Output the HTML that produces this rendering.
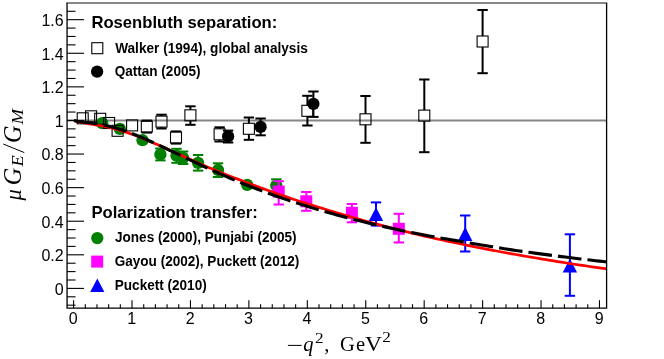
<!DOCTYPE html>
<html><head><meta charset="utf-8"><title>chart</title>
<style>
html,body{margin:0;padding:0;background:#fff;}
body{width:664px;height:359px;position:relative;overflow:hidden;}
svg{display:block;will-change:transform}
text{font-family:"Liberation Sans",sans-serif;fill:#000;}
.tl{font-size:16px;}
.h{font-weight:bold;font-size:16.2px;}
.e{font-weight:bold;font-size:13.8px;}
.m{font-family:"Liberation Serif",serif;}
</style></head>
<body>
<svg width="664" height="359" viewBox="0 0 664 359" style="position:absolute;left:0;top:0">
<rect x="0" y="0" width="664" height="359" fill="#fff"/>
<line x1="67.05" y1="120.45" x2="606.6" y2="120.45" stroke="#858585" stroke-width="2"/>

<circle cx="102.2" cy="123.2" r="6.15" fill="#008000"/>

<circle cx="119.8" cy="128.8" r="6.15" fill="#008000"/>

<circle cx="142.5" cy="140.2" r="6.15" fill="#008000"/>
<line x1="160.4" y1="148.5" x2="160.4" y2="160.4" stroke="#008000" stroke-width="2.0"/>
<line x1="155.20000000000002" y1="148.5" x2="165.6" y2="148.5" stroke="#008000" stroke-width="2.0"/>
<line x1="155.20000000000002" y1="160.4" x2="165.6" y2="160.4" stroke="#008000" stroke-width="2.0"/>
<circle cx="160.4" cy="154.4" r="6.15" fill="#008000"/>
<line x1="176.5" y1="148.8" x2="176.5" y2="162.8" stroke="#008000" stroke-width="2.0"/>
<line x1="171.3" y1="148.8" x2="181.7" y2="148.8" stroke="#008000" stroke-width="2.0"/>
<line x1="171.3" y1="162.8" x2="181.7" y2="162.8" stroke="#008000" stroke-width="2.0"/>
<circle cx="176.5" cy="155.6" r="6.15" fill="#008000"/>
<line x1="183.1" y1="151.5" x2="183.1" y2="164.0" stroke="#008000" stroke-width="2.0"/>
<line x1="177.9" y1="151.5" x2="188.29999999999998" y2="151.5" stroke="#008000" stroke-width="2.0"/>
<line x1="177.9" y1="164.0" x2="188.29999999999998" y2="164.0" stroke="#008000" stroke-width="2.0"/>
<circle cx="183.1" cy="157.8" r="6.15" fill="#008000"/>
<line x1="198.1" y1="155.0" x2="198.1" y2="170.6" stroke="#008000" stroke-width="2.0"/>
<line x1="192.9" y1="155.0" x2="203.29999999999998" y2="155.0" stroke="#008000" stroke-width="2.0"/>
<line x1="192.9" y1="170.6" x2="203.29999999999998" y2="170.6" stroke="#008000" stroke-width="2.0"/>
<circle cx="198.1" cy="162.8" r="6.15" fill="#008000"/>
<line x1="218.0" y1="163.3" x2="218.0" y2="177.0" stroke="#008000" stroke-width="2.0"/>
<line x1="212.8" y1="163.3" x2="223.2" y2="163.3" stroke="#008000" stroke-width="2.0"/>
<line x1="212.8" y1="177.0" x2="223.2" y2="177.0" stroke="#008000" stroke-width="2.0"/>
<circle cx="218.0" cy="170.0" r="6.15" fill="#008000"/>

<circle cx="247.2" cy="184.9" r="6.15" fill="#008000"/>
<line x1="276.3" y1="179.3" x2="276.3" y2="192.0" stroke="#008000" stroke-width="2.0"/>
<line x1="271.1" y1="179.3" x2="281.5" y2="179.3" stroke="#008000" stroke-width="2.0"/>
<line x1="271.1" y1="192.0" x2="281.5" y2="192.0" stroke="#008000" stroke-width="2.0"/>
<circle cx="276.3" cy="185.5" r="6.15" fill="#008000"/>
<line x1="278.7" y1="181.2" x2="278.7" y2="204.5" stroke="#ff00ff" stroke-width="2.0"/>
<line x1="273.5" y1="181.2" x2="283.9" y2="181.2" stroke="#ff00ff" stroke-width="2.0"/>
<line x1="273.5" y1="204.5" x2="283.9" y2="204.5" stroke="#ff00ff" stroke-width="2.0"/>
<rect x="272.70" y="185.60" width="12.0" height="12.0" fill="#ff00ff"/>
<line x1="306.3" y1="192.0" x2="306.3" y2="210.8" stroke="#ff00ff" stroke-width="2.0"/>
<line x1="301.1" y1="192.0" x2="311.5" y2="192.0" stroke="#ff00ff" stroke-width="2.0"/>
<line x1="301.1" y1="210.8" x2="311.5" y2="210.8" stroke="#ff00ff" stroke-width="2.0"/>
<rect x="300.30" y="195.30" width="12.0" height="12.0" fill="#ff00ff"/>
<line x1="351.9" y1="204.0" x2="351.9" y2="222.3" stroke="#ff00ff" stroke-width="2.0"/>
<line x1="346.7" y1="204.0" x2="357.09999999999997" y2="204.0" stroke="#ff00ff" stroke-width="2.0"/>
<line x1="346.7" y1="222.3" x2="357.09999999999997" y2="222.3" stroke="#ff00ff" stroke-width="2.0"/>
<rect x="345.90" y="206.80" width="12.0" height="12.0" fill="#ff00ff"/>
<line x1="398.8" y1="213.8" x2="398.8" y2="242.5" stroke="#ff00ff" stroke-width="2.0"/>
<line x1="393.6" y1="213.8" x2="404.0" y2="213.8" stroke="#ff00ff" stroke-width="2.0"/>
<line x1="393.6" y1="242.5" x2="404.0" y2="242.5" stroke="#ff00ff" stroke-width="2.0"/>
<rect x="392.80" y="222.80" width="12.0" height="12.0" fill="#ff00ff"/>
<line x1="376.0" y1="202.4" x2="376.0" y2="225.6" stroke="#0000ff" stroke-width="2.0"/>
<line x1="370.8" y1="202.4" x2="381.2" y2="202.4" stroke="#0000ff" stroke-width="2.0"/>
<line x1="370.8" y1="225.6" x2="381.2" y2="225.6" stroke="#0000ff" stroke-width="2.0"/>
<polygon points="376.0,207.30 368.80,221.10 383.20,221.10" fill="#0000ff"/>
<line x1="465.2" y1="215.5" x2="465.2" y2="251.5" stroke="#0000ff" stroke-width="2.0"/>
<line x1="460.0" y1="215.5" x2="470.4" y2="215.5" stroke="#0000ff" stroke-width="2.0"/>
<line x1="460.0" y1="251.5" x2="470.4" y2="251.5" stroke="#0000ff" stroke-width="2.0"/>
<polygon points="465.2,227.10 458.00,240.90 472.40,240.90" fill="#0000ff"/>
<line x1="569.9" y1="234.3" x2="569.9" y2="295.8" stroke="#0000ff" stroke-width="2.0"/>
<line x1="564.6999999999999" y1="234.3" x2="575.1" y2="234.3" stroke="#0000ff" stroke-width="2.0"/>
<line x1="564.6999999999999" y1="295.8" x2="575.1" y2="295.8" stroke="#0000ff" stroke-width="2.0"/>
<polygon points="569.9,258.80 562.70,272.60 577.10,272.60" fill="#0000ff"/>

<rect x="77.20" y="112.80" width="11.0" height="11.0" fill="none" stroke="#000" stroke-width="1.1"/>

<rect x="85.60" y="110.80" width="11.0" height="11.0" fill="none" stroke="#000" stroke-width="1.1"/>

<rect x="94.70" y="113.30" width="11.0" height="11.0" fill="none" stroke="#000" stroke-width="1.1"/>

<rect x="103.60" y="117.50" width="11.0" height="11.0" fill="none" stroke="#000" stroke-width="1.1"/>

<rect x="112.10" y="125.30" width="11.0" height="11.0" fill="none" stroke="#000" stroke-width="1.1"/>

<rect x="126.60" y="119.90" width="11.0" height="11.0" fill="none" stroke="#000" stroke-width="1.1"/>
<line x1="146.8" y1="120.6" x2="146.8" y2="121.1" stroke="#000" stroke-width="2.0"/>
<line x1="146.8" y1="132.1" x2="146.8" y2="132.6" stroke="#000" stroke-width="2.0"/>
<line x1="141.60000000000002" y1="120.6" x2="152.0" y2="120.6" stroke="#000" stroke-width="2.0"/>
<line x1="141.60000000000002" y1="132.6" x2="152.0" y2="132.6" stroke="#000" stroke-width="2.0"/>
<rect x="141.30" y="121.10" width="11.0" height="11.0" fill="none" stroke="#000" stroke-width="1.1"/>
<line x1="161.5" y1="114.7" x2="161.5" y2="116.1" stroke="#000" stroke-width="2.0"/>
<line x1="161.5" y1="127.1" x2="161.5" y2="128.5" stroke="#000" stroke-width="2.0"/>
<line x1="156.3" y1="114.7" x2="166.7" y2="114.7" stroke="#000" stroke-width="2.0"/>
<line x1="156.3" y1="128.5" x2="166.7" y2="128.5" stroke="#000" stroke-width="2.0"/>
<rect x="156.00" y="116.10" width="11.0" height="11.0" fill="none" stroke="#000" stroke-width="1.1"/>
<line x1="176.0" y1="131.4" x2="176.0" y2="132.0" stroke="#000" stroke-width="2.0"/>
<line x1="176.0" y1="143.0" x2="176.0" y2="143.6" stroke="#000" stroke-width="2.0"/>
<line x1="170.8" y1="131.4" x2="181.2" y2="131.4" stroke="#000" stroke-width="2.0"/>
<line x1="170.8" y1="143.6" x2="181.2" y2="143.6" stroke="#000" stroke-width="2.0"/>
<rect x="170.50" y="132.00" width="11.0" height="11.0" fill="none" stroke="#000" stroke-width="1.1"/>
<line x1="190.4" y1="106.3" x2="190.4" y2="109.8" stroke="#000" stroke-width="2.0"/>
<line x1="190.4" y1="120.8" x2="190.4" y2="124.8" stroke="#000" stroke-width="2.0"/>
<line x1="185.20000000000002" y1="106.3" x2="195.6" y2="106.3" stroke="#000" stroke-width="2.0"/>
<line x1="185.20000000000002" y1="124.8" x2="195.6" y2="124.8" stroke="#000" stroke-width="2.0"/>
<rect x="184.90" y="109.80" width="11.0" height="11.0" fill="none" stroke="#000" stroke-width="1.1"/>
<line x1="219.6" y1="127.3" x2="219.6" y2="128.8" stroke="#000" stroke-width="2.0"/>
<line x1="219.6" y1="139.8" x2="219.6" y2="141.5" stroke="#000" stroke-width="2.0"/>
<line x1="214.4" y1="127.3" x2="224.79999999999998" y2="127.3" stroke="#000" stroke-width="2.0"/>
<line x1="214.4" y1="141.5" x2="224.79999999999998" y2="141.5" stroke="#000" stroke-width="2.0"/>
<rect x="214.10" y="128.80" width="11.0" height="11.0" fill="none" stroke="#000" stroke-width="1.1"/>
<line x1="248.9" y1="117.5" x2="248.9" y2="123.30000000000001" stroke="#000" stroke-width="2.0"/>
<line x1="248.9" y1="134.3" x2="248.9" y2="139.8" stroke="#000" stroke-width="2.0"/>
<line x1="243.70000000000002" y1="117.5" x2="254.1" y2="117.5" stroke="#000" stroke-width="2.0"/>
<line x1="243.70000000000002" y1="139.8" x2="254.1" y2="139.8" stroke="#000" stroke-width="2.0"/>
<rect x="243.40" y="123.30" width="11.0" height="11.0" fill="none" stroke="#000" stroke-width="1.1"/>
<line x1="307.4" y1="95.8" x2="307.4" y2="105.3" stroke="#000" stroke-width="2.0"/>
<line x1="307.4" y1="116.3" x2="307.4" y2="125.5" stroke="#000" stroke-width="2.0"/>
<line x1="302.2" y1="95.8" x2="312.59999999999997" y2="95.8" stroke="#000" stroke-width="2.0"/>
<line x1="302.2" y1="125.5" x2="312.59999999999997" y2="125.5" stroke="#000" stroke-width="2.0"/>
<rect x="301.90" y="105.30" width="11.0" height="11.0" fill="none" stroke="#000" stroke-width="1.1"/>
<line x1="365.5" y1="96.0" x2="365.5" y2="113.8" stroke="#000" stroke-width="2.0"/>
<line x1="365.5" y1="124.8" x2="365.5" y2="142.8" stroke="#000" stroke-width="2.0"/>
<line x1="360.3" y1="96.0" x2="370.7" y2="96.0" stroke="#000" stroke-width="2.0"/>
<line x1="360.3" y1="142.8" x2="370.7" y2="142.8" stroke="#000" stroke-width="2.0"/>
<rect x="360.00" y="113.80" width="11.0" height="11.0" fill="none" stroke="#000" stroke-width="1.1"/>
<line x1="424.3" y1="79.5" x2="424.3" y2="110.1" stroke="#000" stroke-width="2.0"/>
<line x1="424.3" y1="121.1" x2="424.3" y2="152.2" stroke="#000" stroke-width="2.0"/>
<line x1="419.1" y1="79.5" x2="429.5" y2="79.5" stroke="#000" stroke-width="2.0"/>
<line x1="419.1" y1="152.2" x2="429.5" y2="152.2" stroke="#000" stroke-width="2.0"/>
<rect x="418.80" y="110.10" width="11.0" height="11.0" fill="none" stroke="#000" stroke-width="1.1"/>
<line x1="482.6" y1="10.0" x2="482.6" y2="36.0" stroke="#000" stroke-width="2.0"/>
<line x1="482.6" y1="47.0" x2="482.6" y2="73.2" stroke="#000" stroke-width="2.0"/>
<line x1="477.40000000000003" y1="10.0" x2="487.8" y2="10.0" stroke="#000" stroke-width="2.0"/>
<line x1="477.40000000000003" y1="73.2" x2="487.8" y2="73.2" stroke="#000" stroke-width="2.0"/>
<rect x="477.10" y="36.00" width="11.0" height="11.0" fill="none" stroke="#000" stroke-width="1.1"/>
<line x1="228.1" y1="130.6" x2="228.1" y2="142.5" stroke="#000" stroke-width="2.0"/>
<line x1="222.9" y1="130.6" x2="233.29999999999998" y2="130.6" stroke="#000" stroke-width="2.0"/>
<line x1="222.9" y1="142.5" x2="233.29999999999998" y2="142.5" stroke="#000" stroke-width="2.0"/>
<circle cx="228.1" cy="136.4" r="6.15" fill="#000"/>
<line x1="260.6" y1="118.5" x2="260.6" y2="135.3" stroke="#000" stroke-width="2.0"/>
<line x1="255.40000000000003" y1="118.5" x2="265.8" y2="118.5" stroke="#000" stroke-width="2.0"/>
<line x1="255.40000000000003" y1="135.3" x2="265.8" y2="135.3" stroke="#000" stroke-width="2.0"/>
<circle cx="260.6" cy="126.9" r="6.15" fill="#000"/>
<line x1="313.4" y1="91.5" x2="313.4" y2="116.9" stroke="#000" stroke-width="2.0"/>
<line x1="308.2" y1="91.5" x2="318.59999999999997" y2="91.5" stroke="#000" stroke-width="2.0"/>
<line x1="308.2" y1="116.9" x2="318.59999999999997" y2="116.9" stroke="#000" stroke-width="2.0"/>
<circle cx="313.4" cy="103.8" r="6.15" fill="#000"/>
<clipPath id="fr"><rect x="67.05" y="2.9" width="539.5500000000001" height="305.3"/></clipPath>
<g clip-path="url(#fr)">
<path d="M74.07,120.63 L77.87,121.82 L81.68,122.71 L85.49,123.23 L89.30,123.79 L93.10,124.41 L96.91,125.07 L100.72,125.78 L104.52,126.51 L108.33,127.31 L112.14,128.21 L115.95,129.19 L119.75,130.25 L123.56,131.39 L127.37,132.63 L131.17,133.95 L134.98,135.34 L138.79,136.80 L142.60,138.31 L146.40,139.88 L150.21,141.49 L154.02,143.14 L157.82,144.82 L161.63,146.51 L165.44,148.23 L169.25,149.95 L173.05,151.67 L176.86,153.39 L180.67,155.10 L184.47,156.81 L188.28,158.53 L192.09,160.24 L195.90,161.93 L199.70,163.61 L203.51,165.26 L207.32,166.89 L211.12,168.50 L214.93,170.09 L218.74,171.65 L222.55,173.19 L226.35,174.70 L230.16,176.18 L233.97,177.66 L237.77,179.13 L241.58,180.56 L245.39,182.00 L249.20,183.46 L253.00,184.90 L256.81,186.31 L260.62,187.71 L264.42,189.11 L268.23,190.50 L272.04,191.86 L275.85,193.21 L279.65,194.53 L283.46,195.84 L287.27,197.14 L291.07,198.41 L294.88,199.67 L298.69,200.93 L302.50,202.17 L306.30,203.38 L310.11,204.60 L313.92,205.80 L317.72,206.99 L321.53,208.16 L325.34,209.33 L329.15,210.49 L332.95,211.63 L336.76,212.76 L340.57,213.89 L344.37,215.01 L348.18,216.11 L351.99,217.20 L355.80,218.29 L359.60,219.37 L363.41,220.43 L367.22,221.48 L371.02,222.53 L374.83,223.56 L378.64,224.58 L382.45,225.60 L386.25,226.60 L390.06,227.59 L393.87,228.57 L397.67,229.54 L401.48,230.51 L405.29,231.46 L409.10,232.40 L412.90,233.33 L416.71,234.25 L420.52,235.17 L424.32,236.07 L428.13,236.93 L431.94,237.79 L435.74,238.63 L439.55,239.46 L443.36,240.27 L447.17,241.08 L450.97,241.88 L454.78,242.67 L458.59,243.48 L462.39,244.29 L466.20,245.08 L470.01,245.85 L473.82,246.61 L477.62,247.36 L481.43,248.11 L485.24,248.85 L489.04,249.59 L492.85,250.32 L496.66,251.04 L500.47,251.75 L504.27,252.46 L508.08,253.16 L511.89,253.86 L515.69,254.53 L519.50,255.19 L523.31,255.84 L527.12,256.49 L530.92,257.14 L534.73,257.79 L538.54,258.43 L542.34,259.07 L546.15,259.70 L549.96,260.33 L553.77,260.95 L557.57,261.57 L561.38,262.18 L565.19,262.79 L568.99,263.39 L572.80,263.98 L576.61,264.55 L580.42,265.13 L584.22,265.70 L588.03,266.26 L591.84,266.81 L595.64,267.36 L599.45,267.91 L603.26,268.45 L607.07,268.96" fill="none" stroke="#ff0000" stroke-width="2.7" stroke-linejoin="round"/>
<path d="M74.07,120.59 L77.87,121.43 L81.68,121.97 L85.49,122.40 L89.30,122.82 L93.10,123.30 L96.91,123.86 L100.72,124.52 L104.52,125.23 L108.33,126.05 L112.14,126.99 L115.95,128.04 L119.75,129.18 L123.56,130.43 L127.37,131.76 L131.17,133.19 L134.98,134.69 L138.79,136.24 L142.60,137.85 L146.40,139.51 L150.21,141.21 L154.02,142.93 L157.82,144.68 L161.63,146.45 L165.44,148.23 L169.25,150.03 L173.05,151.83 L176.86,153.63 L180.67,155.44 L184.47,157.23 L188.28,159.07 L192.09,160.89 L195.90,162.70 L199.70,164.50 L203.51,166.28 L207.32,168.05 L211.12,169.80 L214.93,171.53 L218.74,173.24 L222.55,174.92 L226.35,176.59 L230.16,178.21 L233.97,179.82 L237.77,181.40 L241.58,182.96 L245.39,184.49 L249.20,186.00 L253.00,187.49 L256.81,188.96 L260.62,190.40 L264.42,191.83 L268.23,193.23 L272.04,194.60 L275.85,195.96 L279.65,197.29 L283.46,198.60 L287.27,199.89 L291.07,201.16 L294.88,202.41 L298.69,203.64 L302.50,204.85 L306.30,206.04 L310.11,207.21 L313.92,208.36 L317.72,209.50 L321.53,210.61 L325.34,211.71 L329.15,212.79 L332.95,213.85 L336.76,214.90 L340.57,215.93 L344.37,216.94 L348.18,217.94 L351.99,218.92 L355.80,219.89 L359.60,220.84 L363.41,221.78 L367.22,222.71 L371.02,223.62 L374.83,224.51 L378.64,225.40 L382.45,226.27 L386.25,227.12 L390.06,227.97 L393.87,228.80 L397.67,229.62 L401.48,230.43 L405.29,231.23 L409.10,232.01 L412.90,232.79 L416.71,233.55 L420.52,234.31 L424.32,235.05 L428.13,235.75 L431.94,236.43 L435.74,237.11 L439.55,237.78 L443.36,238.44 L447.17,239.09 L450.97,239.73 L454.78,240.38 L458.59,241.05 L462.39,241.72 L466.20,242.38 L470.01,243.03 L473.82,243.67 L477.62,244.30 L481.43,244.93 L485.24,245.57 L489.04,246.21 L492.85,246.84 L496.66,247.46 L500.47,248.08 L504.27,248.69 L508.08,249.30 L511.89,249.89 L515.69,250.44 L519.50,250.99 L523.31,251.52 L527.12,252.06 L530.92,252.58 L534.73,253.10 L538.54,253.62 L542.34,254.13 L546.15,254.63 L549.96,255.13 L553.77,255.62 L557.57,256.11 L561.38,256.59 L565.19,257.07 L568.99,257.54 L572.80,258.01 L576.61,258.47 L580.42,258.93 L584.22,259.38 L588.03,259.83 L591.84,260.28 L595.64,260.72 L599.45,261.15 L603.26,261.58 L607.07,262.01" fill="none" stroke="#000" stroke-width="3.1" stroke-dasharray="23.7 6.03" stroke-linejoin="round"/>
</g>
<rect x="91.80" y="42.70" width="11.0" height="11.0" fill="none" stroke="#000" stroke-width="1.1"/>
<circle cx="97.1" cy="71.7" r="6.15" fill="#000"/>
<circle cx="97.3" cy="238.1" r="6.15" fill="#008000"/>
<rect x="91.20" y="255.60" width="12.0" height="12.0" fill="#ff00ff"/>
<polygon points="97.3,278.60 90.20,292.00 104.40,292.00" fill="#0000ff"/>
<path d="M67.05,2.9 V308.2 H606.6 V2.9" fill="none" stroke="#000" stroke-width="1.3" stroke-linejoin="miter"/>
<line x1="66.39999999999999" y1="2.9499999999999997" x2="607.25" y2="2.9499999999999997" stroke="#111" stroke-width="1.1"/>
<line x1="67.05" y1="305.19" x2="75.55" y2="305.19" stroke="#000" stroke-width="1.1"/>
<line x1="67.05" y1="296.80" x2="75.55" y2="296.80" stroke="#000" stroke-width="1.1"/>
<line x1="67.05" y1="288.40" x2="84.05" y2="288.40" stroke="#000" stroke-width="1.1"/>
<line x1="67.05" y1="280.00" x2="75.55" y2="280.00" stroke="#000" stroke-width="1.1"/>
<line x1="67.05" y1="271.60" x2="75.55" y2="271.60" stroke="#000" stroke-width="1.1"/>
<line x1="67.05" y1="263.21" x2="75.55" y2="263.21" stroke="#000" stroke-width="1.1"/>
<line x1="67.05" y1="254.81" x2="84.05" y2="254.81" stroke="#000" stroke-width="1.1"/>
<line x1="67.05" y1="246.41" x2="75.55" y2="246.41" stroke="#000" stroke-width="1.1"/>
<line x1="67.05" y1="238.01" x2="75.55" y2="238.01" stroke="#000" stroke-width="1.1"/>
<line x1="67.05" y1="229.62" x2="75.55" y2="229.62" stroke="#000" stroke-width="1.1"/>
<line x1="67.05" y1="221.22" x2="84.05" y2="221.22" stroke="#000" stroke-width="1.1"/>
<line x1="67.05" y1="212.82" x2="75.55" y2="212.82" stroke="#000" stroke-width="1.1"/>
<line x1="67.05" y1="204.42" x2="75.55" y2="204.42" stroke="#000" stroke-width="1.1"/>
<line x1="67.05" y1="196.03" x2="75.55" y2="196.03" stroke="#000" stroke-width="1.1"/>
<line x1="67.05" y1="187.63" x2="84.05" y2="187.63" stroke="#000" stroke-width="1.1"/>
<line x1="67.05" y1="179.23" x2="75.55" y2="179.23" stroke="#000" stroke-width="1.1"/>
<line x1="67.05" y1="170.83" x2="75.55" y2="170.83" stroke="#000" stroke-width="1.1"/>
<line x1="67.05" y1="162.44" x2="75.55" y2="162.44" stroke="#000" stroke-width="1.1"/>
<line x1="67.05" y1="154.04" x2="84.05" y2="154.04" stroke="#000" stroke-width="1.1"/>
<line x1="67.05" y1="145.64" x2="75.55" y2="145.64" stroke="#000" stroke-width="1.1"/>
<line x1="67.05" y1="137.24" x2="75.55" y2="137.24" stroke="#000" stroke-width="1.1"/>
<line x1="67.05" y1="128.85" x2="75.55" y2="128.85" stroke="#000" stroke-width="1.1"/>
<line x1="67.05" y1="120.45" x2="84.05" y2="120.45" stroke="#000" stroke-width="1.1"/>
<line x1="67.05" y1="112.05" x2="75.55" y2="112.05" stroke="#000" stroke-width="1.1"/>
<line x1="67.05" y1="103.65" x2="75.55" y2="103.65" stroke="#000" stroke-width="1.1"/>
<line x1="67.05" y1="95.26" x2="75.55" y2="95.26" stroke="#000" stroke-width="1.1"/>
<line x1="67.05" y1="86.86" x2="84.05" y2="86.86" stroke="#000" stroke-width="1.1"/>
<line x1="67.05" y1="78.46" x2="75.55" y2="78.46" stroke="#000" stroke-width="1.1"/>
<line x1="67.05" y1="70.06" x2="75.55" y2="70.06" stroke="#000" stroke-width="1.1"/>
<line x1="67.05" y1="61.67" x2="75.55" y2="61.67" stroke="#000" stroke-width="1.1"/>
<line x1="67.05" y1="53.27" x2="84.05" y2="53.27" stroke="#000" stroke-width="1.1"/>
<line x1="67.05" y1="44.87" x2="75.55" y2="44.87" stroke="#000" stroke-width="1.1"/>
<line x1="67.05" y1="36.47" x2="75.55" y2="36.47" stroke="#000" stroke-width="1.1"/>
<line x1="67.05" y1="28.08" x2="75.55" y2="28.08" stroke="#000" stroke-width="1.1"/>
<line x1="67.05" y1="19.68" x2="84.05" y2="19.68" stroke="#000" stroke-width="1.1"/>
<line x1="67.05" y1="11.28" x2="75.55" y2="11.28" stroke="#000" stroke-width="1.1"/>
<line x1="73.60" y1="308.2" x2="73.60" y2="300.2" stroke="#000" stroke-width="1.1"/>
<line x1="85.29" y1="308.2" x2="85.29" y2="304.2" stroke="#000" stroke-width="1.1"/>
<line x1="96.97" y1="308.2" x2="96.97" y2="304.2" stroke="#000" stroke-width="1.1"/>
<line x1="108.66" y1="308.2" x2="108.66" y2="304.2" stroke="#000" stroke-width="1.1"/>
<line x1="120.34" y1="308.2" x2="120.34" y2="304.2" stroke="#000" stroke-width="1.1"/>
<line x1="132.03" y1="308.2" x2="132.03" y2="300.2" stroke="#000" stroke-width="1.1"/>
<line x1="143.72" y1="308.2" x2="143.72" y2="304.2" stroke="#000" stroke-width="1.1"/>
<line x1="155.40" y1="308.2" x2="155.40" y2="304.2" stroke="#000" stroke-width="1.1"/>
<line x1="167.09" y1="308.2" x2="167.09" y2="304.2" stroke="#000" stroke-width="1.1"/>
<line x1="178.77" y1="308.2" x2="178.77" y2="304.2" stroke="#000" stroke-width="1.1"/>
<line x1="190.46" y1="308.2" x2="190.46" y2="300.2" stroke="#000" stroke-width="1.1"/>
<line x1="202.15" y1="308.2" x2="202.15" y2="304.2" stroke="#000" stroke-width="1.1"/>
<line x1="213.83" y1="308.2" x2="213.83" y2="304.2" stroke="#000" stroke-width="1.1"/>
<line x1="225.52" y1="308.2" x2="225.52" y2="304.2" stroke="#000" stroke-width="1.1"/>
<line x1="237.20" y1="308.2" x2="237.20" y2="304.2" stroke="#000" stroke-width="1.1"/>
<line x1="248.89" y1="308.2" x2="248.89" y2="300.2" stroke="#000" stroke-width="1.1"/>
<line x1="260.58" y1="308.2" x2="260.58" y2="304.2" stroke="#000" stroke-width="1.1"/>
<line x1="272.26" y1="308.2" x2="272.26" y2="304.2" stroke="#000" stroke-width="1.1"/>
<line x1="283.95" y1="308.2" x2="283.95" y2="304.2" stroke="#000" stroke-width="1.1"/>
<line x1="295.63" y1="308.2" x2="295.63" y2="304.2" stroke="#000" stroke-width="1.1"/>
<line x1="307.32" y1="308.2" x2="307.32" y2="300.2" stroke="#000" stroke-width="1.1"/>
<line x1="319.01" y1="308.2" x2="319.01" y2="304.2" stroke="#000" stroke-width="1.1"/>
<line x1="330.69" y1="308.2" x2="330.69" y2="304.2" stroke="#000" stroke-width="1.1"/>
<line x1="342.38" y1="308.2" x2="342.38" y2="304.2" stroke="#000" stroke-width="1.1"/>
<line x1="354.06" y1="308.2" x2="354.06" y2="304.2" stroke="#000" stroke-width="1.1"/>
<line x1="365.75" y1="308.2" x2="365.75" y2="300.2" stroke="#000" stroke-width="1.1"/>
<line x1="377.44" y1="308.2" x2="377.44" y2="304.2" stroke="#000" stroke-width="1.1"/>
<line x1="389.12" y1="308.2" x2="389.12" y2="304.2" stroke="#000" stroke-width="1.1"/>
<line x1="400.81" y1="308.2" x2="400.81" y2="304.2" stroke="#000" stroke-width="1.1"/>
<line x1="412.49" y1="308.2" x2="412.49" y2="304.2" stroke="#000" stroke-width="1.1"/>
<line x1="424.18" y1="308.2" x2="424.18" y2="300.2" stroke="#000" stroke-width="1.1"/>
<line x1="435.87" y1="308.2" x2="435.87" y2="304.2" stroke="#000" stroke-width="1.1"/>
<line x1="447.55" y1="308.2" x2="447.55" y2="304.2" stroke="#000" stroke-width="1.1"/>
<line x1="459.24" y1="308.2" x2="459.24" y2="304.2" stroke="#000" stroke-width="1.1"/>
<line x1="470.92" y1="308.2" x2="470.92" y2="304.2" stroke="#000" stroke-width="1.1"/>
<line x1="482.61" y1="308.2" x2="482.61" y2="300.2" stroke="#000" stroke-width="1.1"/>
<line x1="494.30" y1="308.2" x2="494.30" y2="304.2" stroke="#000" stroke-width="1.1"/>
<line x1="505.98" y1="308.2" x2="505.98" y2="304.2" stroke="#000" stroke-width="1.1"/>
<line x1="517.67" y1="308.2" x2="517.67" y2="304.2" stroke="#000" stroke-width="1.1"/>
<line x1="529.35" y1="308.2" x2="529.35" y2="304.2" stroke="#000" stroke-width="1.1"/>
<line x1="541.04" y1="308.2" x2="541.04" y2="300.2" stroke="#000" stroke-width="1.1"/>
<line x1="552.73" y1="308.2" x2="552.73" y2="304.2" stroke="#000" stroke-width="1.1"/>
<line x1="564.41" y1="308.2" x2="564.41" y2="304.2" stroke="#000" stroke-width="1.1"/>
<line x1="576.10" y1="308.2" x2="576.10" y2="304.2" stroke="#000" stroke-width="1.1"/>
<line x1="587.78" y1="308.2" x2="587.78" y2="304.2" stroke="#000" stroke-width="1.1"/>
<line x1="599.47" y1="308.2" x2="599.47" y2="300.2" stroke="#000" stroke-width="1.1"/>
<text class="tl" x="63.7" y="26.1" text-anchor="end">1.6</text>
<text class="tl" x="63.7" y="59.7" text-anchor="end">1.4</text>
<text class="tl" x="63.7" y="93.3" text-anchor="end">1.2</text>
<text class="tl" x="63.7" y="126.8" text-anchor="end">1</text>
<text class="tl" x="63.7" y="160.4" text-anchor="end">0.8</text>
<text class="tl" x="63.7" y="194.0" text-anchor="end">0.6</text>
<text class="tl" x="63.7" y="227.6" text-anchor="end">0.4</text>
<text class="tl" x="63.7" y="261.2" text-anchor="end">0.2</text>
<text class="tl" x="63.7" y="294.8" text-anchor="end">0</text>
<text class="tl" x="73.2" y="324.3" text-anchor="middle">0</text>
<text class="tl" x="131.6" y="324.3" text-anchor="middle">1</text>
<text class="tl" x="190.1" y="324.3" text-anchor="middle">2</text>
<text class="tl" x="248.5" y="324.3" text-anchor="middle">3</text>
<text class="tl" x="306.9" y="324.3" text-anchor="middle">4</text>
<text class="tl" x="365.4" y="324.3" text-anchor="middle">5</text>
<text class="tl" x="423.8" y="324.3" text-anchor="middle">6</text>
<text class="tl" x="482.2" y="324.3" text-anchor="middle">7</text>
<text class="tl" x="540.6" y="324.3" text-anchor="middle">8</text>
<text class="tl" x="599.1" y="324.3" text-anchor="middle">9</text>
<text class="h" x="91.4" y="27.6" textLength="185.9" lengthAdjust="spacingAndGlyphs">Rosenbluth separation:</text>
<text class="e" x="115.2" y="52.8" textLength="192.6" lengthAdjust="spacingAndGlyphs">Walker (1994), global analysis</text>
<text class="e" x="114.7" y="76.1" textLength="85.85" lengthAdjust="spacingAndGlyphs">Qattan (2005)</text>
<text class="h" x="91.4" y="218.0" textLength="166.5" lengthAdjust="spacingAndGlyphs">Polarization transfer:</text>
<text class="e" x="115.0" y="242.0" textLength="181.6" lengthAdjust="spacingAndGlyphs">Jones (2000), Punjabi (2005)</text>
<text class="e" x="114.7" y="265.7" textLength="184.6" lengthAdjust="spacingAndGlyphs">Gayou (2002), Puckett (2012)</text>
<text class="e" x="114.8" y="289.8" textLength="91.9" lengthAdjust="spacingAndGlyphs">Puckett (2010)</text>
<line x1="287.9" y1="345.4" x2="301.6" y2="345.4" stroke="#000" stroke-width="1.0"/>
<text class="m" font-style="italic" style="font-size:20.5px" x="303.3" y="350.7">q</text>
<text class="m" style="font-size:13.6px" x="315.0" y="343.3" textLength="8.6" lengthAdjust="spacingAndGlyphs">2</text>
<text class="m" style="font-size:20.5px" x="324.2" y="350.7">,</text>
<text class="m" style="font-size:20.5px" x="340.0" y="350.7">G</text>
<text class="m" style="font-size:20.5px" x="356.0" y="350.7">e</text>
<text class="m" style="font-size:20.5px" x="365.0" y="350.7" textLength="17.0" lengthAdjust="spacingAndGlyphs">V</text>
<text class="m" style="font-size:13.6px" x="382.3" y="342.0" textLength="8.6" lengthAdjust="spacingAndGlyphs">2</text>
<g transform="translate(20.7,200) rotate(-90)">
<text class="m" font-style="italic" style="font-size:22.4px" x="-0.6" y="0">&#956;</text>
<text class="m" font-style="italic" style="font-size:25.9px" x="14.8" y="0" textLength="17.45" lengthAdjust="spacingAndGlyphs">G</text>
<text class="m" font-style="italic" style="font-size:16.2px" x="33.4" y="2.4" textLength="11.2" lengthAdjust="spacingAndGlyphs">E</text>
<line x1="47.4" y1="3.6" x2="56.0" y2="-17.4" stroke="#000" stroke-width="1.0"/>
<text class="m" font-style="italic" style="font-size:25.9px" x="57.1" y="0" textLength="17.45" lengthAdjust="spacingAndGlyphs">G</text>
<text class="m" font-style="italic" style="font-size:16.2px" x="75.5" y="2.4" textLength="15.6" lengthAdjust="spacingAndGlyphs">M</text>
</g>
</svg>
</body></html>
